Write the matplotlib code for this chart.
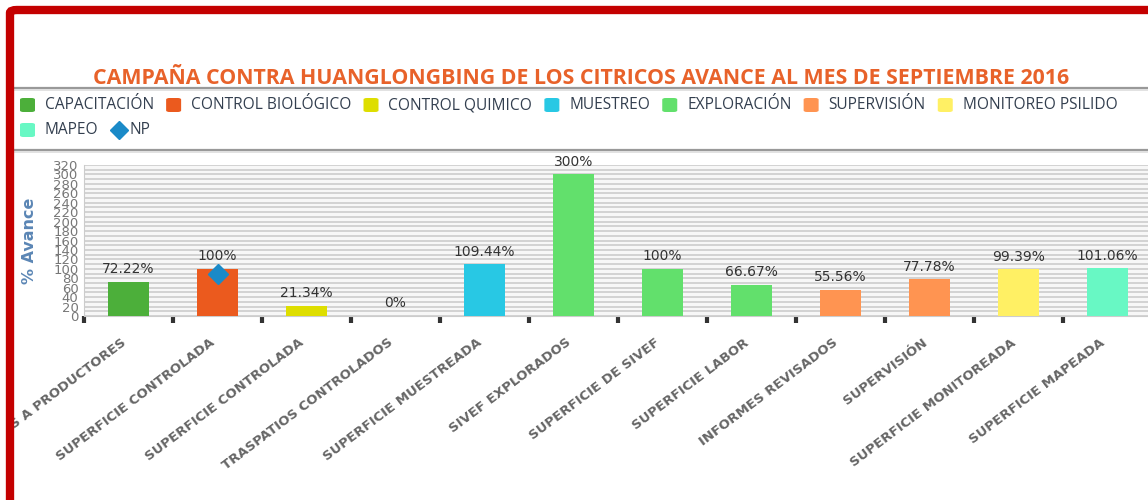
import matplotlib
matplotlib.use('Agg')
import matplotlib.pyplot as plt
from matplotlib.patches import FancyBboxPatch, Rectangle
from matplotlib.lines import Line2D
from matplotlib.ticker import MultipleLocator, FixedLocator, NullFormatter

# datos del avance
categorias = ['PLATICAS A PRODUCTORES', 'SUPERFICIE CONTROLADA', 'SUPERFICIE CONTROLADA',
              'TRASPATIOS CONTROLADOS', 'SUPERFICIE MUESTREADA', 'SIVEF EXPLORADOS',
              'SUPERFICIE DE SIVEF', 'SUPERFICIE LABOR', 'INFORMES REVISADOS',
              'SUPERVISIÓN', 'SUPERFICIE MONITOREADA', 'SUPERFICIE MAPEADA']
avance = [72.22, 100, 21.34, 0, 109.44, 300, 100, 66.67, 55.56, 77.78, 99.39, 101.06]
serie_de_barra = ['CAPACITACIÓN', 'CONTROL BIOLÓGICO', 'CONTROL QUIMICO', 'CONTROL QUIMICO',
                  'MUESTREO', 'EXPLORACIÓN', 'EXPLORACIÓN', 'EXPLORACIÓN',
                  'SUPERVISIÓN', 'SUPERVISIÓN', 'MONITOREO PSILIDO', 'MAPEO']
series = ['CAPACITACIÓN', 'CONTROL BIOLÓGICO', 'CONTROL QUIMICO', 'MUESTREO',
          'EXPLORACIÓN', 'SUPERVISIÓN', 'MONITOREO PSILIDO', 'MAPEO']
colores = ['#4caf3a', '#eb5a1e', '#dede00', '#28c8e4',
           '#62e06c', '#ff9451', '#fff064', '#68f8c4']
np_categoria = [1]
np_valor = [90]
np_color = '#1a8ac8'

titulo = 'CAMPAÑA CONTRA HUANGLONGBING DE LOS CITRICOS AVANCE AL MES DE SEPTIEMBRE 2016'

W, H = 1148, 500
def fx(x):
    return x / W
def fy(y):
    return 1 - y / H

fig = plt.figure(figsize=(W / 100, H / 100), dpi=100)
fig.patch.set_facecolor('white')

ax = fig.add_axes([fx(84), fy(316), 1068 / W, 151 / H])
ax.set_facecolor('#f7f7f7')

color_de = dict(zip(series, colores))
x = list(range(len(categorias)))
ax.bar(x, avance, width=0.45, color=[color_de[s] for s in serie_de_barra], zorder=3)
for i, v in enumerate(avance):
    ax.annotate('%g%%' % v, (i, v), xytext=(0, 4), textcoords='offset points',
                ha='center', va='bottom', fontsize=10, color='#333333', zorder=5)
ax.plot(np_categoria, np_valor, 'D', color=np_color, markersize=10, zorder=4)

ax.set_xlim(-0.5, 11.5)
ax.set_ylim(0, 320)
ax.yaxis.set_major_locator(MultipleLocator(20))
ax.yaxis.set_minor_locator(MultipleLocator(10))
ax.grid(axis='y', which='both', color='#d2d2d2', linewidth=1.4, zorder=0)
ax.tick_params(axis='y', which='both', length=0, labelsize=9.5, labelcolor='#777777', pad=4)
for t in ax.get_yticklabels():
    t.set_family(['Liberation Sans Narrow', 'DejaVu Sans'])

ax.xaxis.set_major_locator(FixedLocator([i - 0.5 for i in range(13)]))
ax.xaxis.set_major_formatter(NullFormatter())
ax.tick_params(axis='x', length=5, width=3, color='#333333', direction='out')

for s in ['top', 'right']:
    ax.spines[s].set_visible(False)
ax.spines['left'].set_color('#cccccc')
ax.spines['bottom'].set_color('#cccccc')

for i, c in enumerate(categorias):
    ax.text(i, -20 / 151, c, transform=ax.get_xaxis_transform(), rotation=37,
            ha='right', va='top', fontsize=9.5, fontweight='bold', color='#666666')

fig.text(fx(30), fy(241), '% Avance', rotation=90, ha='center', va='center',
         fontsize=11.5, fontweight='bold', color='#5b86b5')

fig.text(fx(581), fy(78), titulo, ha='center', va='center', fontsize=15.4,
         fontweight='bold', color='#e8622a', family='Open Sans')

# lineas separadoras
for yy in [88, 150]:
    fig.add_artist(Line2D([fx(14), 1], [fy(yy), fy(yy)], color='#999999', linewidth=1.6))
    fig.add_artist(Line2D([fx(14), 1], [fy(yy + 2), fy(yy + 2)], color='#dddddd', linewidth=1.2))

# leyenda
renderer = fig.canvas.get_renderer()
fila1 = series[:7]
fila2 = series[7:]
def fila_leyenda(nombres, y, x0):
    xx = x0
    for n in nombres:
        if n == 'NP':
            fig.add_artist(Line2D([fx(xx + 8)], [fy(y)], marker='D', color=np_color,
                                  markersize=9, linestyle='none'))
            xx += 19
        else:
            fig.add_artist(FancyBboxPatch((fx(xx), fy(y + 7)), 15 / W, 14 / H,
                                          boxstyle='round,pad=0,rounding_size=0.003',
                                          facecolor=color_de[n], edgecolor='none'))
            xx += 25
        t = fig.text(fx(xx), fy(y), n, ha='left', va='center', fontsize=11.2,
                     color='#333f4f', family='Open Sans')
        bb = t.get_window_extent(renderer)
        xx += bb.width + 12
fila_leyenda(fila1, 105, 20)
fila_leyenda(fila2 + ['NP'], 130, 20)

# marco rojo de la captura
fig.add_artist(Rectangle((0, 0), fx(6), 1, facecolor='white', edgecolor='none', zorder=9))
fig.add_artist(FancyBboxPatch((fx(10), fy(540)), 1.2, 530 / H,
                              boxstyle='round,pad=0,rounding_size=0.006',
                              facecolor='none', edgecolor='#c40000', linewidth=6, zorder=10))

fig.savefig('out.png', dpi=100)
